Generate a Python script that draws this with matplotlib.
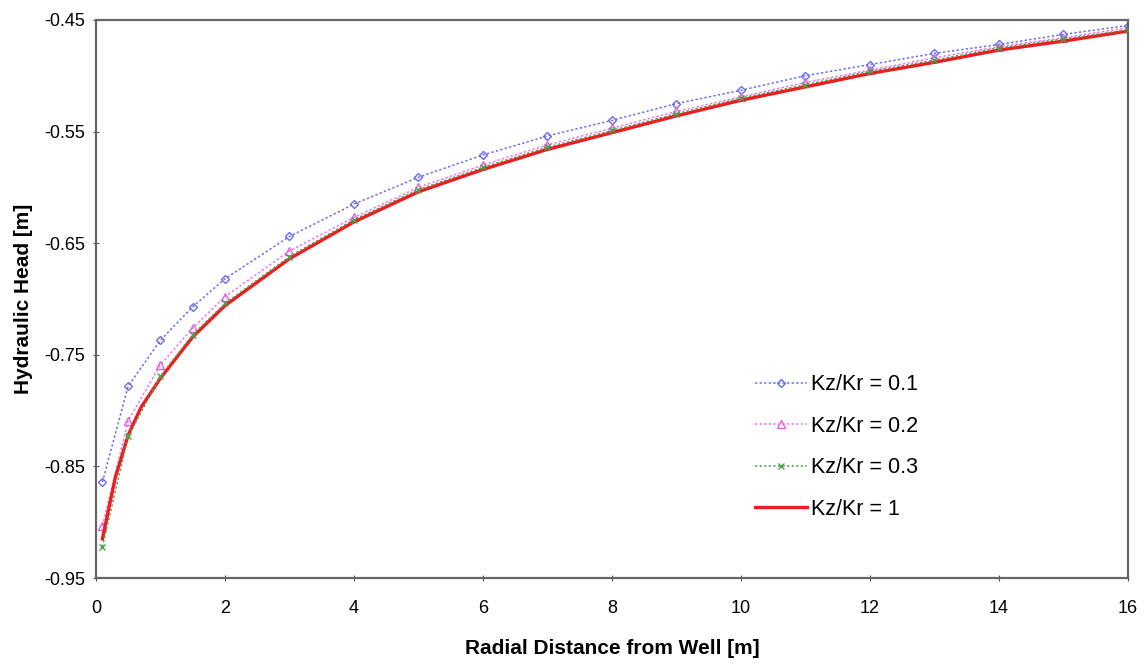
import matplotlib
matplotlib.use("Agg")
import matplotlib.pyplot as plt
from matplotlib.ticker import MultipleLocator

plt.rcParams['font.family'] = ['Liberation Sans', 'DejaVu Sans']

# radial distance of the markers [m]
r_pts = [0.1, 0.5, 1, 1.5, 2, 3, 4, 5, 6, 7, 8, 9, 10, 11, 12, 13, 14, 15, 16]

head_01 = [-0.864, -0.778, -0.737, -0.707, -0.682, -0.644, -0.615, -0.591, -0.571, -0.554,
           -0.540, -0.525, -0.513, -0.500, -0.490, -0.480, -0.472, -0.463, -0.455]
head_02 = [-0.903, -0.809, -0.759, -0.726, -0.698, -0.657, -0.627, -0.600, -0.580, -0.562,
           -0.547, -0.532, -0.519, -0.506, -0.495, -0.484, -0.474, -0.466, -0.457]
head_03 = [-0.922, -0.823, -0.769, -0.732, -0.704, -0.662, -0.629, -0.602, -0.582, -0.564,
           -0.549, -0.534, -0.520, -0.508, -0.496, -0.486, -0.475, -0.467, -0.459]

# the Kz/Kr = 1 curve has a few more points near the well
r_full = [0.1, 0.3, 0.5, 0.7, 1, 1.5, 2, 3, 4, 5, 6, 7, 8, 9, 10, 11, 12, 13, 14, 15, 16]
head_1 = [-0.915, -0.860, -0.822, -0.797, -0.771, -0.734, -0.706, -0.664, -0.631, -0.604,
          -0.584, -0.566, -0.551, -0.536, -0.522, -0.510, -0.498, -0.488, -0.477, -0.469, -0.460]

labels = ["Kz/Kr = 0.1", "Kz/Kr = 0.2", "Kz/Kr = 0.3", "Kz/Kr = 1"]

fig = plt.figure(figsize=(11.45, 6.64), dpi=100)
ax = fig.add_axes([0.0838, 0.1295, 0.9012, 0.8405])

ax.plot(r_pts, head_01, color="#6b6bf0", ls=(0, (1.5, 1.5)), lw=1.1,
        marker="D", ms=4.5, mfc="none", mec="#6b6bf0", label=labels[0])
ax.plot(r_pts, head_02, color="#f070f0", ls=(0, (1.5, 1.5)), lw=1.1,
        marker="^", ms=6, mfc="none", mec="#e060e0", label=labels[1])
ax.plot(r_full, head_1, color="#ee1c1c", ls="-", lw=2.4, label=labels[3], zorder=3)
ax.plot(r_pts, head_03, color="#5a9a5a", ls=(0, (1.5, 1.5)), lw=1.1,
        marker="x", ms=5, mec="#4aa04a", label=labels[2], zorder=4)

ax.set_xlim(0, 16)
ax.set_ylim(-0.95, -0.45)
ax.xaxis.set_major_locator(MultipleLocator(2))
ax.set_yticks([-0.95, -0.85, -0.75, -0.65, -0.55, -0.45])
ax.set_yticklabels(["-0.95", "-0.85", "-0.75", "-0.65", "-0.55", "-0.45"])
ax.tick_params(labelsize=13, color="#555555", length=4, direction="inout", pad=6)
ax.tick_params(axis="x", pad=14)

for s in ax.spines.values():
    s.set_color("#666666")
    s.set_linewidth(1.6)

ax.set_xlabel("Radial Distance from Well [m]", fontsize=15, fontweight="bold", labelpad=16)
ax.set_ylabel("Hydraulic Head [m]", fontsize=15, fontweight="bold", labelpad=8)

h, l = ax.get_legend_handles_labels()
order = [0, 1, 3, 2]
ax.legend([h[i] for i in order], [l[i] for i in order], loc="upper left",
          bbox_to_anchor=(0.62, 0.40), frameon=False, fontsize=15.5,
          handlelength=2.4, labelspacing=0.95, handletextpad=0.2)

fig.savefig("out.png", dpi=100)
